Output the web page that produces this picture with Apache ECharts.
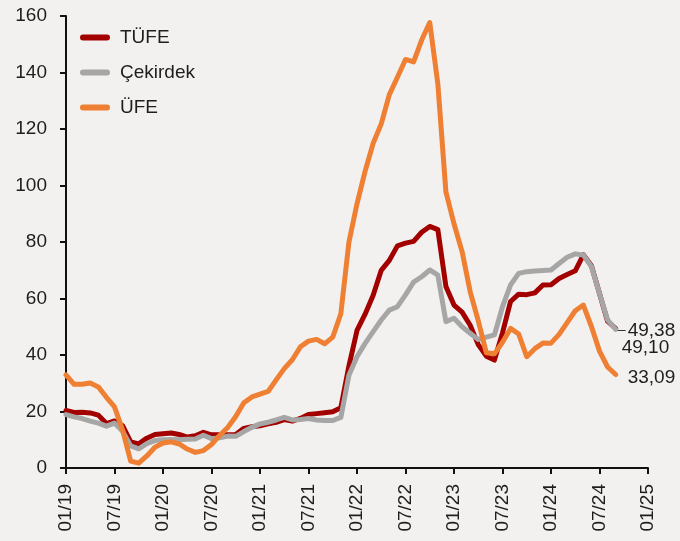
<!DOCTYPE html>
<html>
<head>
<meta charset="utf-8">
<script src="https://cdn.jsdelivr.net/npm/echarts@6/dist/echarts.min.js"></script>
<style>
html,body{margin:0;padding:0;background:#F2F1EF;}
#chart{width:680px;height:541px;}
</style>
</head>
<body>
<div id="chart"></div>
<script>
// Monthly categories 01/19 .. 01/25
const categories = [
  "01/19","02/19","03/19","04/19","05/19","06/19","07/19","08/19","09/19","10/19","11/19","12/19",
  "01/20","02/20","03/20","04/20","05/20","06/20","07/20","08/20","09/20","10/20","11/20","12/20",
  "01/21","02/21","03/21","04/21","05/21","06/21","07/21","08/21","09/21","10/21","11/21","12/21",
  "01/22","02/22","03/22","04/22","05/22","06/22","07/22","08/22","09/22","10/22","11/22","12/22",
  "01/23","02/23","03/23","04/23","05/23","06/23","07/23","08/23","09/23","10/23","11/23","12/23",
  "01/24","02/24","03/24","04/24","05/24","06/24","07/24","08/24","09/24","10/24","11/24","12/24",
  "01/25"
];

const tufe = [
  20.35, 19.67, 19.71, 19.50, 18.71, 15.72, 16.65, 15.01, 9.26, 8.55, 10.56, 11.84,
  12.15, 12.37, 11.86, 10.94, 11.39, 12.62, 11.76, 11.77, 11.75, 11.89, 14.03, 14.60,
  14.97, 15.61, 16.19, 17.14, 16.59, 17.53, 18.95, 19.25, 19.58, 19.89, 21.31, 36.08,
  48.69, 54.44, 61.14, 69.97, 73.50, 78.62, 79.60, 80.21, 83.45, 85.51, 84.39, 64.27,
  57.68, 55.18, 50.51, 43.68, 39.59, 38.21, 47.83, 58.94, 61.53, 61.36, 61.98, 64.77,
  64.86, 67.07, 68.50, 69.80, 75.45, 71.60, 61.78, 51.97, 49.38
];

const cekirdek = [
  18.9, 18.1, 17.5, 16.6, 15.9, 14.8, 15.9, 13.0, 7.8, 6.8, 8.6, 9.7,
  10.0, 10.1, 10.0, 10.2, 10.3, 11.6, 10.4, 10.7, 11.3, 11.2, 12.9, 14.4,
  15.6, 16.2, 17.0, 17.9, 17.0, 17.2, 17.5, 17.0, 16.8, 16.8, 17.9, 32.8,
  39.4, 44.1, 48.3, 52.4, 55.9, 57.1, 61.3, 65.8, 67.7, 70.1, 68.3, 51.8,
  53.0, 50.0, 47.7, 45.5, 46.3, 47.1, 57.1, 64.8, 68.9, 69.5, 69.7, 69.9,
  70.1, 72.4, 74.6, 75.8, 75.4, 71.3, 61.8, 52.4, 49.10
];

const ufe = [
  32.93, 29.64, 29.64, 30.12, 28.71, 25.04, 21.66, 13.45, 2.45, 1.70, 4.26, 7.36,
  8.84, 9.26, 8.50, 6.71, 5.53, 6.17, 8.33, 11.53, 14.33, 18.20, 23.11, 25.15,
  26.16, 27.09, 31.20, 35.17, 38.33, 42.89, 44.92, 45.52, 43.96, 46.31, 54.62, 79.89,
  93.53, 105.01, 114.97, 121.82, 132.16, 138.31, 144.61, 143.75, 151.50, 157.69, 136.02, 97.72,
  86.46, 76.61, 62.45, 52.11, 40.76, 40.42, 44.50, 49.41, 47.44, 39.39, 42.25, 44.22,
  44.20, 47.29, 51.47, 55.66, 57.68, 50.09, 41.37, 35.75, 33.09
];

const seriesNames = ["TÜFE", "Çekirdek", "ÜFE"];
const yTicks = [0, 20, 40, 60, 80, 100, 120, 140, 160];

const FONT = "'Liberation Sans', Arial, sans-serif";
const TXT = '#1e1e1e';
const fmt = v => v.toFixed(2).replace('.', ',');
const pill = 'path://M3,0 H27 A3,3 0 0 1 27,6 H3 A3,3 0 0 1 3,0 Z';

const chart = echarts.init(document.getElementById('chart'), null, {renderer: 'canvas'});

function lineSeries(name, data, color, endLabel) {
  return {
    name: name,
    type: 'line',
    data: data,
    showSymbol: false,
    symbol: 'none',
    lineStyle: {color: color, width: 5, cap: 'round', join: 'round'},
    itemStyle: {color: color},
    endLabel: endLabel,
    emphasis: {disabled: true},
    z: 2
  };
}

chart.setOption({
  animation: false,
  backgroundColor: '#F2F1EF',
  textStyle: {fontFamily: FONT},
  grid: {left: 66, right: 32, top: 16, bottom: 73, containLabel: false},
  legend: {
    orient: 'vertical',
    left: 75,
    top: 23,
    itemWidth: 30,
    itemHeight: 6,
    itemGap: 16,
    icon: pill,
    data: seriesNames,
    textStyle: {fontFamily: FONT, fontSize: 19, color: TXT, padding: [0, 0, 0, 5]}
  },
  xAxis: {
    type: 'category',
    data: categories,
    boundaryGap: false,
    axisLine: {show: true, lineStyle: {color: '#111', width: 2}},
    axisTick: {show: true, interval: 5, length: 6, lineStyle: {color: '#111', width: 2}},
    axisLabel: {interval: 5, rotate: 90, margin: 16, fontFamily: FONT, fontSize: 19, color: TXT},
    splitLine: {show: false}
  },
  yAxis: {
    type: 'value',
    min: yTicks[0],
    max: yTicks[yTicks.length - 1],
    interval: yTicks[1] - yTicks[0],
    axisLine: {show: true, lineStyle: {color: '#111', width: 2}},
    axisTick: {show: true, length: 6, lineStyle: {color: '#111', width: 2}},
    axisLabel: {margin: 19, fontFamily: FONT, fontSize: 19, color: TXT},
    splitLine: {show: false}
  },
  series: [
    lineSeries(seriesNames[0], tufe, '#A30000', {
      show: true,
      distance: 2,
      offset: [0, 2],
      formatter: p => '{d|}{v|' + fmt(p.value) + '}',
      rich: {
        d: {width: 8, height: 1, backgroundColor: '#333'},
        v: {fontFamily: FONT, fontSize: 19, color: TXT, padding: [0, 0, 0, 2]}
      }
    }),
    lineSeries(seriesNames[1], cekirdek, '#A6A6A6', {
      show: true,
      distance: 6,
      offset: [0, 18],
      formatter: p => fmt(p.value),
      fontFamily: FONT, fontSize: 19, color: TXT
    }),
    lineSeries(seriesNames[2], ufe, '#EE7F33', {
      show: true,
      distance: 12,
      offset: [0, 3],
      formatter: p => fmt(p.value),
      fontFamily: FONT, fontSize: 19, color: TXT
    })
  ]
});
</script>
</body>
</html>
